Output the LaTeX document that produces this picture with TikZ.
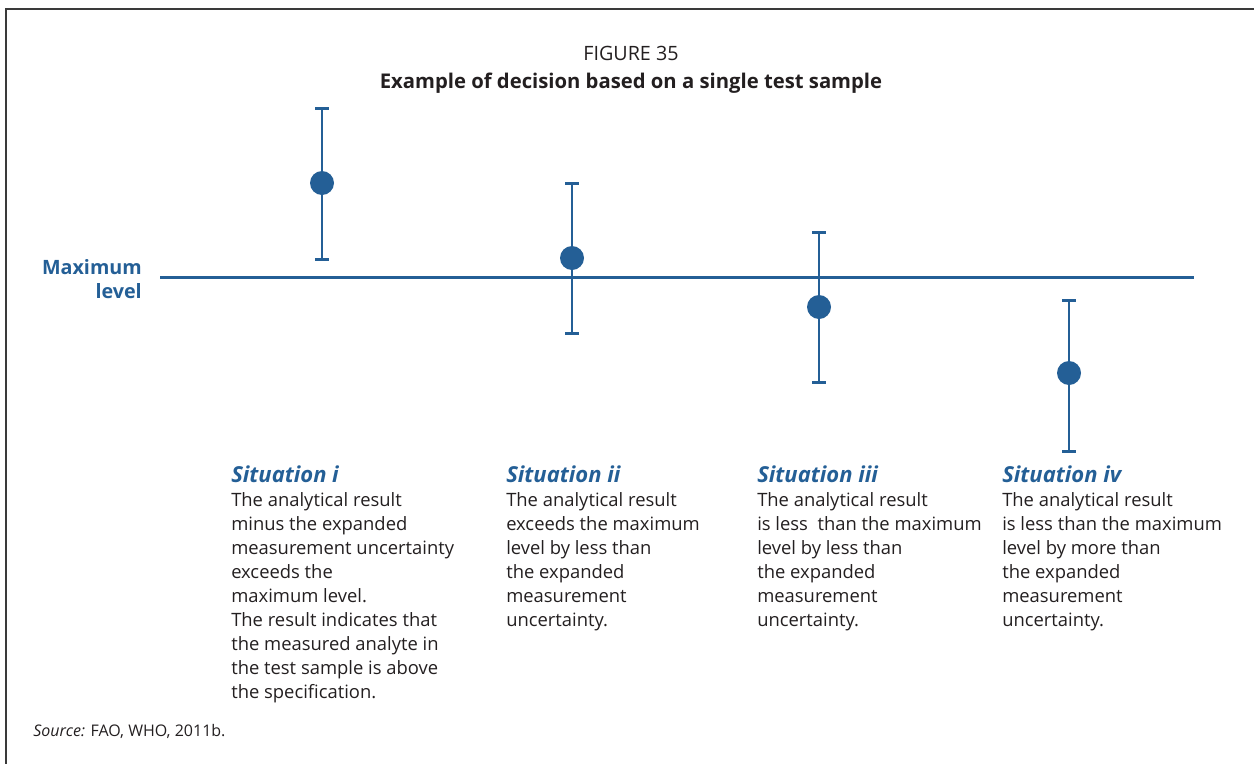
\documentclass[tikz,border=0pt]{standalone}
\usepackage{fontspec}
\setmainfont{Open Sans}
\usetikzlibrary{calc}
\definecolor{fblue}{HTML}{245F96}
\definecolor{ftext}{HTML}{231F20}
\definecolor{fframe}{HTML}{3A3A3A}
\tikzset{
  bodytext/.style={anchor=base west, inner sep=0pt, align=left, text=ftext,
    font=\fontsize{13.8}{18}\selectfont},
  stem/.style={draw=fblue, line width=1.5pt},
  capbar/.style={draw=fblue, line width=2.25pt},
  dot/.style={circle, fill=fblue, minimum size=18pt, inner sep=0pt},
}
\newcommand{\sitHead}[1]{{\color{fblue}\bfseries\itshape\fontsize{16.5}{18}\selectfont #1}}
\begin{document}
\begin{tikzpicture}[x=0.75pt, y=-0.75pt]
\useasboundingbox (0,0) rectangle (1254,764);
% frame (top and left edges)
\draw[fframe, line width=1.5pt] (6,764) -- (6,9) -- (1254,9);

% titles
\node[anchor=base, inner sep=0pt, text=ftext, font=\fontsize{14.8}{18}\selectfont] (fig) at (631,60) {FIGURE 35};
\node[anchor=base, inner sep=0pt, text=ftext, font=\bfseries\fontsize{15.2}{18}\selectfont] (title) at (631,88) {Example of decision based on a single test sample};

% maximum level
\coordinate (ml0) at (160,277);
\coordinate (ml1) at (1194,277);
\draw[fblue, line width=2.25pt] (ml0) -- (ml1);
% (base anchor of a multi-line node sits on its last line)
\node[anchor=base east, inner sep=0pt, align=right, text=fblue,
      font=\bfseries\fontsize{14.8}{18}\selectfont] (maxlab) at (142,298) {Maximum\\level};

% error bars: name / x / top / centre / bottom
\foreach \n/\x/\t/\m/\b in {a/322/108/183/259, b/572/183/258/333, c/819/232/307/382, d/1069/300/373/451}{
  \coordinate (top\n) at (\x,\t);
  \coordinate (bot\n) at (\x,\b);
  \draw[stem] (top\n) -- (bot\n);
  \draw[capbar] ($(top\n)+(-7,0)$) -- ($(top\n)+(7,0)$);
  \draw[capbar] ($(bot\n)+(-7,0)$) -- ($(bot\n)+(7,0)$);
  \node[dot] (dot\n) at (\x,\m) {};
}

% situation descriptions (anchored on the last line's baseline)
\node[bodytext] (sit1) at (231,698) {\sitHead{Situation i}\\
The analytical result\\minus the expanded\\measurement uncertainty\\exceeds the\\maximum level.\\
The result indicates that\\the measured analyte in\\the test sample is above\\the specification.};
\node[bodytext] (sit2) at (506,626) {\sitHead{Situation ii}\\
The analytical result\\exceeds the maximum\\level by less than\\the expanded\\measurement\\uncertainty.};
\node[bodytext] (sit3) at (757,626) {\sitHead{Situation iii}\\
The analytical result\\is less\ \ than the maximum\\level by less than\\the expanded\\measurement\\uncertainty.};
\node[bodytext] (sit4) at (1002,626) {\sitHead{Situation iv}\\
The analytical result\\is less than the maximum\\level by more than\\the expanded\\measurement\\uncertainty.};

% source line
\node[anchor=base west, inner sep=0pt, text=ftext, font=\fontsize{12}{14}\selectfont] (src) at (33,736) {\textit{Source:} FAO, WHO, 2011b.};
\end{tikzpicture}
\end{document}
